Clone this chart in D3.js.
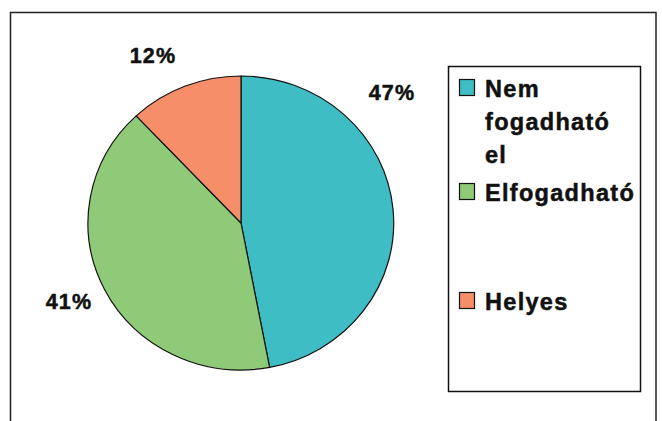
<!DOCTYPE html>
<html>
<head>
<meta charset="utf-8">
<script src="https://cdn.jsdelivr.net/npm/d3@7/dist/d3.min.js"></script>
<style>
  html, body { margin: 0; padding: 0; background: #fff; }
  svg { display: block; }
  text { font-family: "Liberation Sans", Arial, sans-serif; font-weight: bold; fill: #111; stroke: #111; stroke-width: 0.5; }
</style>
</head>
<body>
<svg id="chart" width="662" height="421"></svg>
<script>
// Answer categories and their shares (percent)
const categories = ["Nem fogadható el", "Elfogadható", "Helyes"];
const legendLines = [["Nem", "fogadható", "el"], ["Elfogadható"], ["Helyes"]];
const values = [47, 41, 12];
const colors = ["#3FBDC4", "#8ECA77", "#F68F69"];

const svg = d3.select("#chart");

// outer frame
svg.append("rect")
  .attr("x", 10.5).attr("y", 12.5)
  .attr("width", 645.5).attr("height", 420)
  .attr("fill", "none").attr("stroke", "#222").attr("stroke-width", 1.5);

// pie, drawn on a unit circle and stretched into a slight ellipse
const cx = 241, cy = 223, rx = 153, ry = 147;
const pie = d3.pie().sort(null).value(d => d)(values);
const arc = d3.arc().innerRadius(0).outerRadius(1);

const g = svg.append("g")
  .attr("transform", `translate(${cx},${cy}) scale(${rx},${ry})`);
g.selectAll("path")
  .data(pie)
  .join("path")
  .attr("d", arc)
  .attr("fill", (d, i) => colors[i])
  .attr("stroke", "#111")
  .attr("stroke-width", 1.2)
  .attr("vector-effect", "non-scaling-stroke")
  .attr("stroke-linejoin", "round");

// percentage labels placed outside each slice
const labelPos = [
  { x: 392, y: 100 },  // 47%
  { x: 69, y: 309 },   // 41%
  { x: 153, y: 63 }    // 12%
];
svg.selectAll("text.pct")
  .data(pie)
  .join("text")
  .attr("class", "pct")
  .attr("x", (d, i) => labelPos[i].x)
  .attr("y", (d, i) => labelPos[i].y)
  .attr("text-anchor", "middle")
  .attr("font-size", 21.5)
  .attr("letter-spacing", 1.2)
  .text(d => d.data + "%");

// legend box
svg.append("rect")
  .attr("x", 448.5).attr("y", 66.5)
  .attr("width", 192).attr("height", 325)
  .attr("fill", "#fff").attr("stroke", "#111").attr("stroke-width", 1.5);

const legendBaselines = [97, 201, 310];
const lineStep = 33;
const legend = svg.append("g");
categories.forEach((c, i) => {
  const base = legendBaselines[i];
  legend.append("rect")
    .attr("x", 459.5).attr("y", base - 17.5)
    .attr("width", 15).attr("height", 16)
    .attr("fill", colors[i]).attr("stroke", "#111").attr("stroke-width", 1.2);
  const t = legend.append("text")
    .attr("x", 485).attr("y", base)
    .attr("font-size", 23.5)
    .attr("letter-spacing", 1.3);
  legendLines[i].forEach((line, j) => {
    t.append("tspan").attr("x", 485).attr("y", base + j * lineStep).text(line);
  });
});
</script>
</body>
</html>
